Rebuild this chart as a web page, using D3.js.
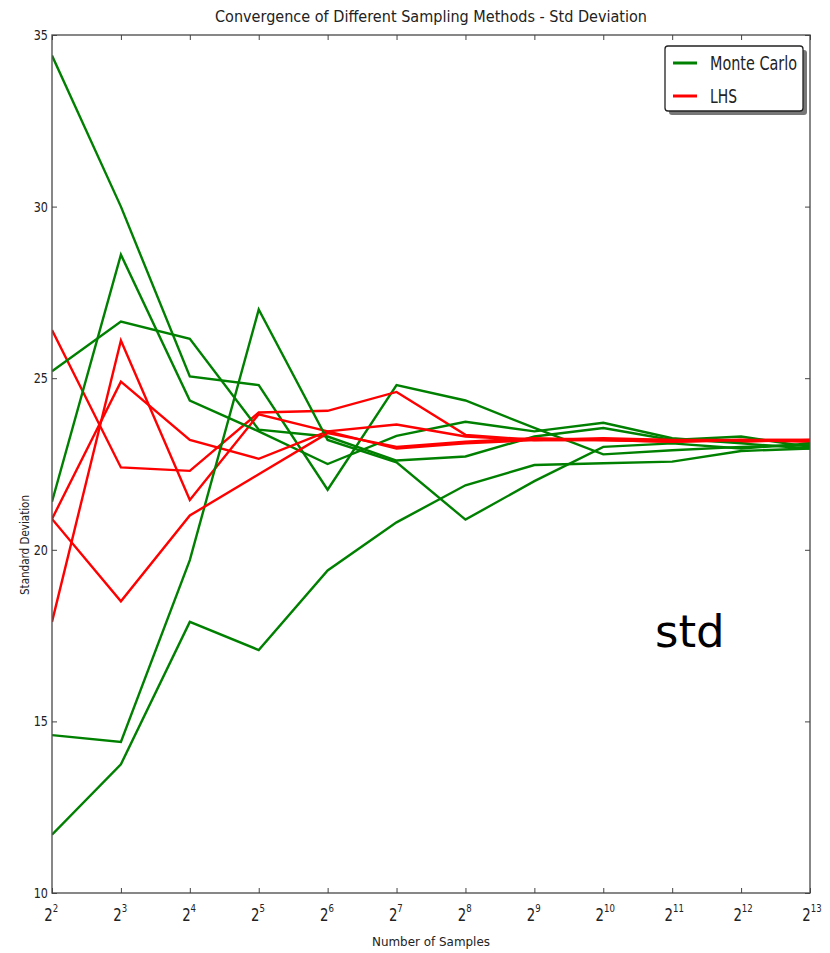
<!DOCTYPE html>
<html>
<head>
<meta charset="utf-8">
<script src="https://cdn.jsdelivr.net/npm/d3@7"></script>
<style>
  html, body { margin: 0; padding: 0; background: #fff; }
  svg { display: block; }
  text { font-family: "DejaVu Sans", sans-serif; fill: #222; }
</style>
</head>
<body>
<script>
// Sample counts (powers of two) on the x axis
const sampleExponents = [2, 3, 4, 5, 6, 7, 8, 9, 10, 11, 12, 13];
const sampleCounts = sampleExponents.map(e => Math.pow(2, e));

// Standard deviation estimates, five Monte Carlo runs
const monteCarlo1 = [34.4, 30.0, 25.05, 24.8, 21.75, 24.8, 24.35, 23.55, 22.78, 22.9, 23.0, 23.05];
const monteCarlo2 = [25.2, 26.65, 26.15, 23.5, 23.3, 22.6, 22.72, 23.3, 23.55, 23.2, 23.3, 23.0];
const monteCarlo3 = [21.4, 28.6, 24.35, 23.45, 22.5, 23.32, 23.73, 23.45, 23.7, 23.25, 23.1, 22.95];
const monteCarlo4 = [14.6, 14.4, 19.7, 27.0, 23.2, 22.55, 20.88, 22.0, 23.0, 23.1, 22.95, 23.1];
const monteCarlo5 = [11.7, 13.75, 17.9, 17.08, 19.4, 20.8, 21.88, 22.47, 22.52, 22.57, 22.88, 22.95];

// Standard deviation estimates, four Latin Hypercube runs
const lhs1 = [26.4, 22.4, 22.3, 24.0, 24.05, 24.6, 23.35, 23.2, 23.2, 23.15, 23.2, 23.2];
const lhs2 = [17.9, 26.1, 21.45, 23.95, 23.45, 22.95, 23.1, 23.2, 23.25, 23.2, 23.15, 23.2];
const lhs3 = [20.9, 24.9, 23.2, 22.65, 23.45, 23.65, 23.3, 23.2, 23.2, 23.2, 23.2, 23.15];
const lhs4 = [20.9, 18.5, 21.0, 22.2, 23.4, 23.0, 23.15, 23.25, 23.2, 23.15, 23.2, 23.2];

const yTicks = [10, 15, 20, 25, 30, 35];
const legendLabels = ["Monte Carlo", "LHS"];
const seriesColors = { mc: "#008000", lhs: "#ff0000" };

const W = 830, H = 953;
const plot = { left: 52, right: 810, top: 35, bottom: 893 };

const svg = d3.select("body").append("svg").attr("width", W).attr("height", H);

const x = d3.scaleLog().base(2).domain([4, 8192]).range([plot.left, plot.right]);
const y = d3.scaleLinear().domain([10, 35]).range([plot.bottom, plot.top]);

// Title
svg.append("text")
  .attr("x", 431).attr("y", 22)
  .attr("text-anchor", "middle")
  .attr("font-size", 16)
  .attr("textLength", 432).attr("lengthAdjust", "spacingAndGlyphs")
  .text("Convergence of Different Sampling Methods - Std Deviation");

// Data lines, drawn run by run
const line = d3.line()
  .x((d, i) => x(sampleCounts[i]))
  .y(d => y(d));

const runs = [
  [monteCarlo1, "mc"], [lhs1, "lhs"],
  [monteCarlo2, "mc"], [lhs2, "lhs"],
  [monteCarlo3, "mc"], [lhs3, "lhs"],
  [monteCarlo4, "mc"], [lhs4, "lhs"],
  [monteCarlo5, "mc"]
];

const clip = svg.append("clipPath").attr("id", "plotclip")
  .append("rect")
  .attr("x", plot.left).attr("y", plot.top)
  .attr("width", plot.right - plot.left).attr("height", plot.bottom - plot.top);

const lineG = svg.append("g").attr("clip-path", "url(#plotclip)");
runs.forEach(([vals, kind]) => {
  lineG.append("path")
    .datum(vals)
    .attr("d", line)
    .attr("fill", "none")
    .attr("stroke", seriesColors[kind])
    .attr("stroke-width", 2.4)
    .attr("stroke-linejoin", "miter");
});

// Frame
svg.append("rect")
  .attr("x", plot.left).attr("y", plot.top)
  .attr("width", plot.right - plot.left).attr("height", plot.bottom - plot.top)
  .attr("fill", "none").attr("stroke", "#555").attr("stroke-width", 1.4);

// Inward ticks on all four sides
const tickLen = 5;
const axisBottom = d3.axisBottom(x).tickValues(sampleCounts).tickSizeInner(-tickLen).tickSizeOuter(0).tickFormat("");
const axisTop = d3.axisTop(x).tickValues(sampleCounts).tickSizeInner(-tickLen).tickSizeOuter(0).tickFormat("");
const axisLeft = d3.axisLeft(y).tickValues(yTicks).tickSizeInner(-tickLen).tickSizeOuter(0).tickFormat("");
const axisRight = d3.axisRight(y).tickValues(yTicks).tickSizeInner(-tickLen).tickSizeOuter(0).tickFormat("");

[[axisBottom, `translate(0,${plot.bottom})`], [axisTop, `translate(0,${plot.top})`],
 [axisLeft, `translate(${plot.left},0)`], [axisRight, `translate(${plot.right},0)`]].forEach(([ax, tr]) => {
  const g = svg.append("g").attr("transform", tr).call(ax);
  g.select(".domain").remove();
  g.selectAll(".tick line").attr("stroke", "#444").attr("stroke-width", 1);
});

// Y tick labels
svg.append("g").selectAll("text")
  .data(yTicks).join("text")
  .attr("x", plot.left - 4)
  .attr("y", d => y(d) + 5)
  .attr("text-anchor", "end")
  .attr("font-size", 14)
  .attr("transform", d => `translate(${(plot.left - 4) * 0.2},0) scale(0.8,1)`)
  .text(d => d);

// X tick labels: 2 with superscript exponent
const xl = svg.append("g").selectAll("g")
  .data(sampleExponents).join("g")
  .attr("transform", d => `translate(${x(Math.pow(2, d))},921) scale(0.78,1)`);
xl.append("text")
  .attr("text-anchor", "end")
  .attr("x", 1)
  .attr("font-size", 17)
  .text("2");
xl.append("text")
  .attr("text-anchor", "start")
  .attr("x", 1).attr("y", -9)
  .attr("font-size", 11)
  .text(d => d);

// Axis titles
svg.append("text")
  .attr("x", 431).attr("y", 946)
  .attr("text-anchor", "middle")
  .attr("font-size", 13)
  .attr("textLength", 118).attr("lengthAdjust", "spacingAndGlyphs")
  .text("Number of Samples");

svg.append("text")
  .attr("transform", "translate(29,545) rotate(-90)")
  .attr("text-anchor", "middle")
  .attr("font-size", 12)
  .attr("textLength", 100).attr("lengthAdjust", "spacingAndGlyphs")
  .text("Standard Deviation");

// Legend with drop shadow
const lg = svg.append("g");
lg.append("rect")
  .attr("x", 669).attr("y", 50).attr("width", 138).attr("height", 65)
  .attr("rx", 3).attr("fill", "#777");
lg.append("rect")
  .attr("x", 665).attr("y", 46).attr("width", 138).attr("height", 65)
  .attr("rx", 3).attr("fill", "#fff").attr("stroke", "#222").attr("stroke-width", 1.3);
const legendItems = [[legendLabels[0], seriesColors.mc, 63], [legendLabels[1], seriesColors.lhs, 96]];
legendItems.forEach(([label, color, yy], i) => {
  lg.append("line")
    .attr("x1", 673).attr("x2", 697).attr("y1", yy).attr("y2", yy)
    .attr("stroke", color).attr("stroke-width", 3);
  lg.append("text")
    .attr("x", 710).attr("y", yy + 7)
    .attr("font-size", 19)
    .attr("textLength", i === 0 ? 87 : 27).attr("lengthAdjust", "spacingAndGlyphs")
    .text(label);
});

// Annotation
svg.append("text")
  .attr("x", 655).attr("y", 647)
  .attr("font-family", "'Liberation Sans', Arial, sans-serif")
  .attr("font-size", 45)
  .style("fill", "#000")
  .text("std");
</script>
</body>
</html>
